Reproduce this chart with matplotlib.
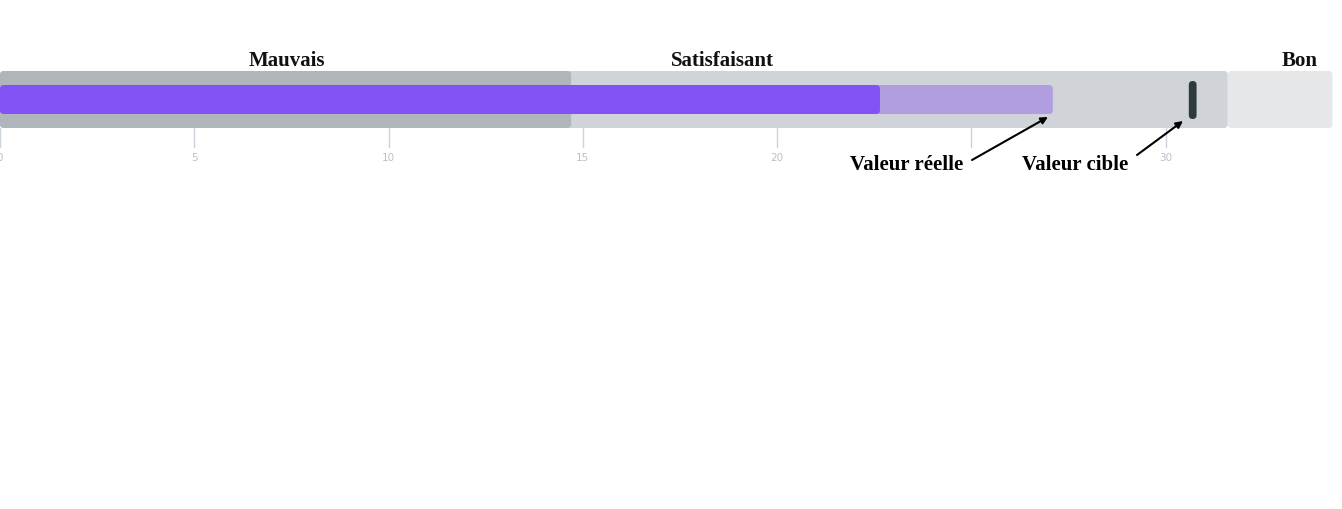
import matplotlib
matplotlib.use("Agg")
import matplotlib.pyplot as plt
from matplotlib.patches import FancyBboxPatch

range_labels = ["Mauvais", "Satisfaisant", "Bon"]
range_ends = [14.7, 31.6, 34.3]
range_colors = ["#b0b5bb", "#d0d3d7", "#e6e7e9"]
label_x = [7.39, 18.6, 33.45]
value_dark = 22.65
value_light = 27.1
target = 30.7
ticks = [0, 5, 10, 15, 20, 25, 30]

PX = 38.85  # px per unit (layout)
fig = plt.figure(figsize=(13.42, 5.09), dpi=100)
ax = fig.add_axes([0, 0, 1, 1])
ax.set_xlim(0, 1342 / PX)
ax.set_ylim(509, 0)
ax.axis("off")

def rbox(x0, x1, y0, y1, color, r=0.1, z=1):
    p = FancyBboxPatch((x0, y0), x1 - x0, y1 - y0,
                       boxstyle=f"round,pad=0,rounding_size={r}",
                       mutation_aspect=PX, fc=color, ec="none", zorder=z)
    ax.add_patch(p)

starts = [0] + range_ends[:-1]
for i in reversed(range(3)):
    rbox(0 if i < 2 else starts[i], range_ends[i], 71, 128, range_colors[i], z=1 + (2 - i))
rbox(0, value_light, 85, 114, "#b09ee0", z=5)
rbox(0, value_dark, 85, 114, "#8352f5", z=6)
rbox(target - 0.1, target + 0.1, 81, 119, "#2f3a3f", r=0.1, z=7)

for t in ticks:
    ax.plot([t, t], [128, 147], color="#cdd3da", lw=1, zorder=0)
    if t != 25:
        ax.text(t, 158, str(t), ha="center", va="center", fontsize=7.5, color="#b8c0cc")

for lab, x in zip(range_labels, label_x):
    ax.text(x, 61, lab, ha="center", va="center", fontsize=15, fontweight="bold",
            family="Liberation Serif", color="#111111")

ax.text(907 / PX, 165, "Valeur réelle", ha="center", va="center", fontsize=15,
        fontweight="bold", family="Liberation Serif", zorder=10)
ax.annotate("", xy=(1048 / PX, 117), xytext=(972 / PX, 160),
            arrowprops=dict(arrowstyle="-|>", color="black", lw=1.5, shrinkA=0, shrinkB=0), zorder=10)
ax.text(1075 / PX, 165, "Valeur cible", ha="center", va="center", fontsize=15,
        fontweight="bold", family="Liberation Serif", zorder=10)
ax.annotate("", xy=(1183 / PX, 121), xytext=(1137 / PX, 155),
            arrowprops=dict(arrowstyle="-|>", color="black", lw=1.5, shrinkA=0, shrinkB=0), zorder=10)

fig.savefig("out.png", dpi=100, facecolor="white")
